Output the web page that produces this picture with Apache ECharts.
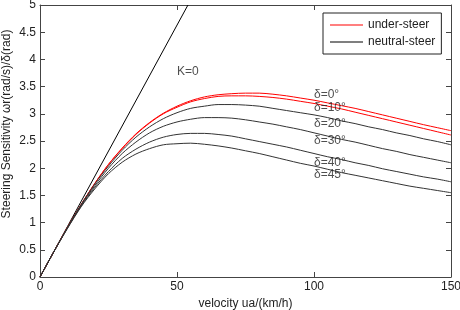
<!DOCTYPE html>
<html>
<head>
<meta charset="utf-8">
<script src="https://cdn.jsdelivr.net/npm/echarts@6/dist/echarts.min.js"></script>
<style>
  html, body { margin: 0; padding: 0; background: #fff; }
  #echart1 { width: 460px; height: 310px; }
</style>
</head>
<body>
<div id="echart1"></div>
<script>
// velocity ua (km/h)
var velocity = [0, 5, 10, 15, 20, 25, 30, 35, 40, 45, 50, 55, 60, 65, 70, 75,
    80, 85, 90, 95, 100, 105, 110, 115, 120, 125, 130, 135, 140, 145, 150];

// steering sensitivity for each front wheel angle
var delta0  = [0, 0.46, 0.91, 1.33, 1.72, 2.07, 2.37, 2.63, 2.84, 3.01, 3.14, 3.24, 3.31, 3.35, 3.37, 3.38,
    3.38, 3.36, 3.33, 3.29, 3.25, 3.20, 3.15, 3.10, 3.04, 2.98, 2.92, 2.86, 2.80, 2.745, 2.69];
var delta10 = [0, 0.46, 0.91, 1.33, 1.72, 2.07, 2.36, 2.62, 2.83, 3.00, 3.12, 3.22, 3.28, 3.32, 3.33, 3.33,
    3.32, 3.30, 3.27, 3.23, 3.19, 3.14, 3.09, 3.03, 2.97, 2.91, 2.85, 2.79, 2.73, 2.67, 2.61];
var delta20 = [0, 0.46, 0.91, 1.33, 1.71, 2.04, 2.33, 2.57, 2.76, 2.91, 3.02, 3.10, 3.14, 3.17, 3.17, 3.16,
    3.14, 3.10, 3.06, 3.02, 2.98, 2.93, 2.87, 2.82, 2.76, 2.71, 2.65, 2.60, 2.54, 2.49, 2.43];
var delta30 = [0, 0.46, 0.90, 1.32, 1.68, 2.00, 2.27, 2.48, 2.65, 2.77, 2.85, 2.90, 2.93, 2.93, 2.92, 2.89,
    2.85, 2.81, 2.76, 2.71, 2.65, 2.59, 2.53, 2.48, 2.42, 2.36, 2.31, 2.25, 2.20, 2.15, 2.10];
var delta40 = [0, 0.46, 0.90, 1.30, 1.65, 1.94, 2.18, 2.35, 2.48, 2.57, 2.62, 2.64, 2.64, 2.62, 2.59, 2.54,
    2.49, 2.44, 2.39, 2.33, 2.27, 2.21, 2.16, 2.10, 2.05, 1.99, 1.94, 1.89, 1.84, 1.80, 1.75];
var delta45 = [0, 0.46, 0.89, 1.29, 1.62, 1.90, 2.11, 2.26, 2.36, 2.43, 2.45, 2.46, 2.44, 2.41, 2.37, 2.32,
    2.27, 2.21, 2.15, 2.09, 2.04, 1.98, 1.92, 1.87, 1.82, 1.77, 1.72, 1.67, 1.63, 1.59, 1.55];

// K=0 (neutral steer) straight line
var neutralU = [0, 54];
var neutralW = [0, 5];

// text annotations in the plot (velocity, value, text)
var noteU = [50, 100, 100, 100, 100, 100, 100];
var noteW = [3.77, 3.35, 3.11, 2.81, 2.50, 2.11, 1.875];
var noteText = ['K=0', 'δ=0°', 'δ=10°', 'δ=20°', 'δ=30°', 'δ=40°', 'δ=45°'];

var legendNames = ['under-steer', 'neutral-steer'];

function pairs(xs, ys) {
    var out = [];
    for (var i = 0; i < xs.length; i++) {
        out.push([xs[i], ys[i]]);
    }
    return out;
}

var font = 'Liberation Sans, Arial, Helvetica, sans-serif';
var boxColor = '#444';

function curve(name, ys, color) {
    return {
        name: name,
        type: 'line',
        data: pairs(velocity, ys),
        smooth: 0.3,
        showSymbol: false,
        symbol: 'none',
        lineStyle: { color: color, width: 1 },
        itemStyle: { color: color },
        z: 3
    };
}

var mychart1 = echarts.init(document.getElementById('echart1'));

var notes = [];
for (var i = 0; i < noteText.length; i++) {
    notes.push([noteU[i], noteW[i], noteText[i]]);
}

var o = {
    animation: false,
    backgroundColor: '#fff',
    textStyle: { fontFamily: font },
    grid: {
        left: 40,
        right: 9,
        top: 5,
        bottom: 33,
        outerBoundsMode: 'none',
        containLabel: false
    },
    legend: {
        data: legendNames,
        orient: 'vertical',
        left: 323,
        top: 13,
        padding: [6, 6, 6, 7],
        itemGap: 5,
        itemWidth: 33,
        itemHeight: 1,
        icon: 'rect',
        borderColor: '#222',
        borderWidth: 1,
        backgroundColor: '#fff',
        selectedMode: false,
        textStyle: { fontFamily: font, fontSize: 12, color: '#222' }
    },
    xAxis: [{
        type: 'value',
        min: 0,
        max: 150,
        interval: 50,
        name: 'velocity ua/(km/h)',
        nameLocation: 'middle',
        nameGap: 21,
        nameMoveOverlap: false,
        nameTextStyle: { fontFamily: font, fontSize: 12, color: '#222' },
        axisLine: { onZero: false, lineStyle: { color: boxColor } },
        axisTick: { inside: true, length: 5, lineStyle: { color: boxColor } },
        axisLabel: { fontFamily: font, fontSize: 12, color: '#222', margin: 4 },
        splitLine: { show: false }
    }, {
        type: 'value',
        position: 'top',
        min: 0,
        max: 150,
        interval: 50,
        axisLine: { onZero: false, lineStyle: { color: boxColor } },
        axisTick: { inside: true, length: 5, lineStyle: { color: boxColor } },
        axisLabel: { show: false },
        splitLine: { show: false }
    }],
    yAxis: [{
        type: 'value',
        min: 0,
        max: 5,
        interval: 0.5,
        name: 'Steering Sensitivity ωr(rad/s)/δ(rad)',
        nameLocation: 'middle',
        nameGap: 27,
        nameMoveOverlap: false,
        nameTextStyle: { fontFamily: font, fontSize: 12, color: '#222', padding: [0, 0, 0, 34] },
        axisLine: { show: true, onZero: false, lineStyle: { color: boxColor } },
        axisTick: { show: true, inside: true, length: 5, lineStyle: { color: boxColor } },
        axisLabel: { fontFamily: font, fontSize: 12, color: '#222', margin: 4 },
        splitLine: { show: false }
    }, {
        type: 'value',
        position: 'right',
        min: 0,
        max: 5,
        interval: 0.5,
        axisLine: { show: true, onZero: false, lineStyle: { color: boxColor } },
        axisTick: { show: true, inside: true, length: 5, lineStyle: { color: boxColor } },
        axisLabel: { show: false },
        splitLine: { show: false }
    }],
    series: [
        {
            name: 'neutral-steer',
            type: 'line',
            data: pairs(neutralU, neutralW),
            showSymbol: false,
            symbol: 'none',
            lineStyle: { color: '#000', width: 1 },
            itemStyle: { color: '#000' },
            z: 2
        },
        curve('under-steer', delta0, '#ff0000'),
        curve('δ=10°', delta10, '#ff0000'),
        curve('δ=20°', delta20, '#333'),
        curve('δ=30°', delta30, '#333'),
        curve('δ=40°', delta40, '#333'),
        curve('δ=45°', delta45, '#333'),
        {
            name: 'notes',
            type: 'scatter',
            data: notes,
            symbolSize: 0,
            silent: true,
            label: {
                show: true,
                position: [0, 0],
                align: 'left',
                verticalAlign: 'middle',
                fontFamily: font,
                fontSize: 12,
                color: '#222',
                formatter: function (p) { return p.data[2]; }
            },
            z: 5
        }
    ]
};

mychart1.setOption(o);
</script>
</body>
</html>
